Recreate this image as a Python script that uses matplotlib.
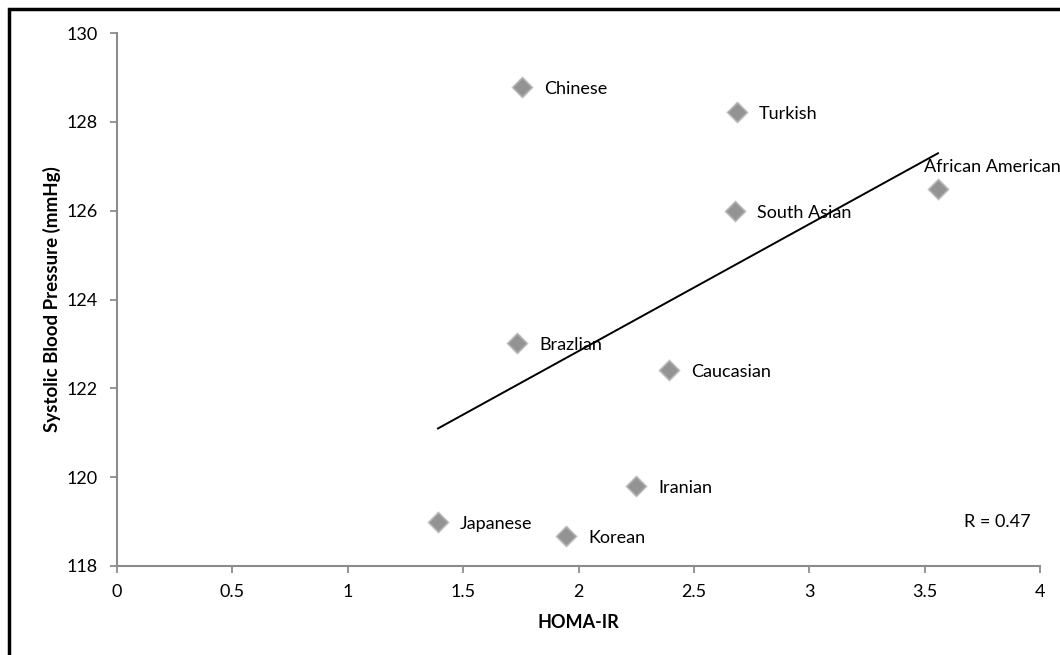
import numpy as np
import matplotlib.pyplot as plt
from matplotlib.patches import Rectangle

plt.rcParams['font.family'] = ['Lato', 'DejaVu Sans']

groups = ['Chinese', 'Turkish', 'African American', 'South Asian', 'Brazlian',
          'Caucasian', 'Iranian', 'Japanese', 'Korean']
homa_ir = [1.755, 2.687, 3.558, 2.678, 1.733, 2.392, 2.249, 1.391, 1.946]
sbp = [128.78, 128.22, 126.49, 125.99, 123.02, 122.41, 119.80, 118.99, 118.67]
r_text = 'R = 0.47'

fig = plt.figure(figsize=(10.6, 6.55), dpi=100)
ax = fig.add_axes([117 / 1060, 1 - 566 / 655, 923 / 1060, 533 / 655])

# outer chart frame (runs off the right and bottom edges)
fig.patches.append(Rectangle((9 / 1060, -0.05), 1.2, 1 - 9 / 655 + 0.05,
                             transform=fig.transFigure, fill=False,
                             edgecolor='black', linewidth=2.5))

# trend line from least squares fit
slope, intercept = np.polyfit(homa_ir, sbp, 1)
xs = np.array([min(homa_ir), max(homa_ir)])
ax.plot(xs, slope * xs + intercept, color='black', linewidth=1.4, zorder=2)

# soft shadow under the markers
ax.scatter(homa_ir, sbp, marker='D', s=140, color='#d0d0d0',
           alpha=0.6, linewidths=0, zorder=3)
ax.scatter(homa_ir, sbp, marker='D', s=95, color='#939393',
           edgecolors='#b0b0b0', linewidths=1, zorder=4)

for name, x, y in zip(groups, homa_ir, sbp):
    if name == 'African American':
        ax.annotate(name, (x, y), xytext=(-14, 22), textcoords='offset pixels',
                    ha='left', va='center', fontsize=13, annotation_clip=False)
    else:
        ax.annotate(name, (x, y), xytext=(22, -2), textcoords='offset pixels',
                    ha='left', va='center', fontsize=13)

ax.text(3.67, 119.0, r_text, fontsize=13, ha='left', va='center')

ax.set_xlim(0, 4)
ax.set_ylim(118, 130)
ax.set_xticks([0, 0.5, 1, 1.5, 2, 2.5, 3, 3.5, 4])
ax.set_xticklabels(['0', '0.5', '1', '1.5', '2', '2.5', '3', '3.5', '4'])
ax.set_yticks(range(118, 131, 2))

for side in ['top', 'right']:
    ax.spines[side].set_visible(False)
for side in ['left', 'bottom']:
    ax.spines[side].set_color('#8c8c8c')
    ax.spines[side].set_linewidth(1.5)
ax.tick_params(axis='both', colors='#8c8c8c', length=5, width=1.3,
               labelsize=13, labelcolor='black')
ax.tick_params(axis='y', pad=9)
ax.tick_params(axis='x', pad=8)

ax.set_xlabel('HOMA-IR', fontsize=13, fontweight='bold', labelpad=10)
ax.set_ylabel('Systolic Blood Pressure (mmHg)', fontsize=13.5,
              fontweight='bold', labelpad=4)

fig.savefig('out.png', dpi=100)
